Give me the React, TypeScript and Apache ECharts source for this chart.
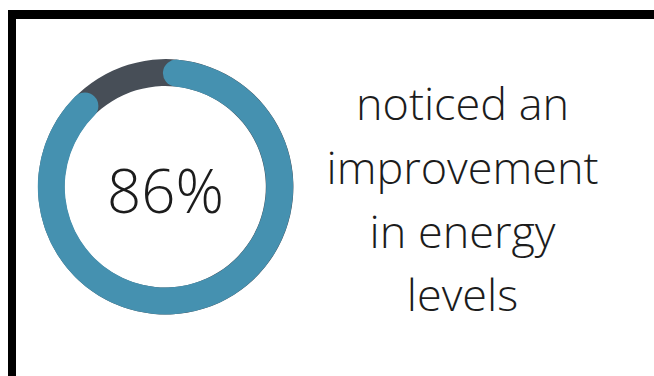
import React, { useEffect, useRef } from "react";
import * as echarts from "echarts";

const percentValue = 86;
const maxValue = 100;
const captionLines = ["noticed an", "improvement", "in energy", "levels"];

const BLUE = "#4591b0";
const DARK = "#474e57";
const TEXT = "#1c1c1c";
const FONT = "'Open Sans', 'Noto Sans', sans-serif";

export default function App() {
  const ref = useRef<HTMLDivElement>(null);
  useEffect(() => {
    if (!ref.current) return;
    const chart = echarts.init(ref.current, null, { renderer: "svg" });
    const lineYs = [102, 166, 230, 293];
    const start = 84.5;
    chart.setOption({
      animation: false,
      backgroundColor: "#ffffff",
      graphic: [
        { type: "rect", shape: { x: 8, y: 10, width: 646, height: 9 }, style: { fill: "#000" } },
        { type: "rect", shape: { x: 8, y: 10, width: 8, height: 366 }, style: { fill: "#000" } },
        ...captionLines.map((t, i) => ({
          type: "text",
          x: 462.5,
          y: lineYs[i],
          style: {
            text: t,
            fill: TEXT,
            font: `300 45px ${FONT}`,
            align: "center",
            verticalAlign: "middle",
          },
        })),
      ],
      series: [
        {
          type: "gauge",
          startAngle: start,
          endAngle: start - 360,
          min: 0,
          max: maxValue,
          center: [165.5, 186.8],
          radius: 127.7,
          progress: { show: true, width: 27, roundCap: true, itemStyle: { color: BLUE } },
          axisLine: { lineStyle: { width: 27, color: [[1, DARK]] } },
          pointer: { show: false },
          anchor: { show: false },
          axisTick: { show: false },
          splitLine: { show: false },
          axisLabel: { show: false },
          title: { show: false },
          detail: {
            formatter: "{value}%",
            offsetCenter: [0, 3],
            fontSize: 60,
            fontWeight: 300,
            fontFamily: FONT,
            color: TEXT,
          },
          data: [{ value: percentValue }],
        },
      ],
    });
    return () => chart.dispose();
  }, []);
  return (
    <div
      ref={ref}
      style={{ position: "fixed", left: 0, top: 0, width: 654, height: 376 }}
    />
  );
}
